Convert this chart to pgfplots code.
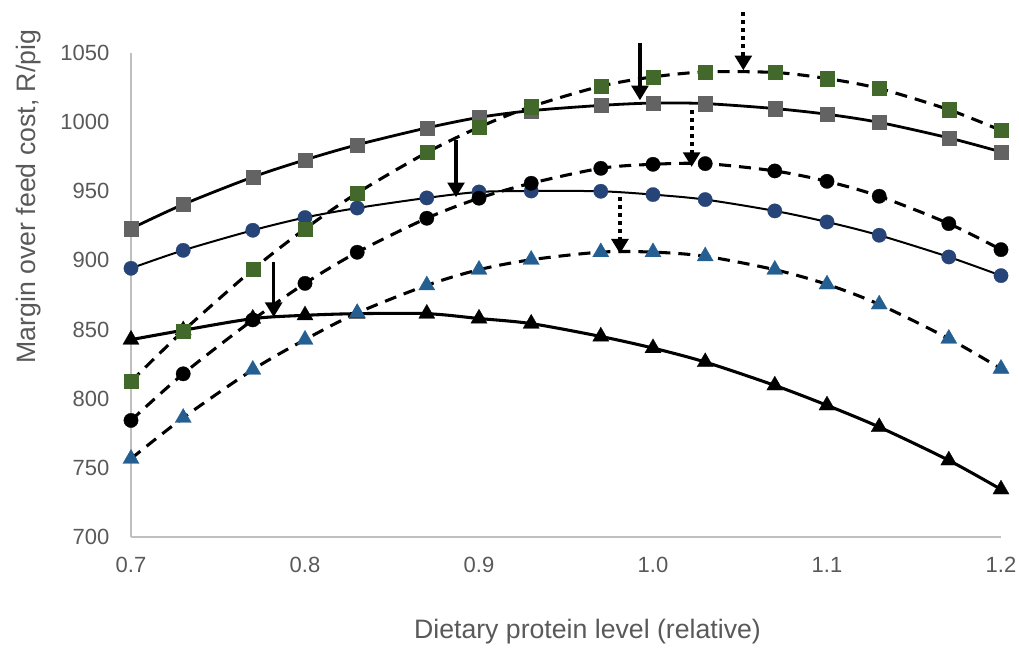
\documentclass[border=0pt]{standalone}
\usepackage{fontspec}
\setmainfont{Liberation Sans}
\usepackage{pgfplots}
\pgfplotsset{compat=1.18}
\usepackage{pgfplotstable}
\usetikzlibrary{arrows.meta,calc}

\definecolor{sqgray}{HTML}{636363}
\definecolor{sqgreen}{HTML}{43682B}
\definecolor{cblue}{HTML}{264478}
\definecolor{tblue}{HTML}{255E91}
\definecolor{axisgray}{HTML}{BFBFBF}
\definecolor{labgray}{HTML}{595959}

\pgfplotstableread{
x y
0.70 923
0.73 940.5
0.77 960.3
0.80 972.7
0.83 983.6
0.87 995.8
0.90 1003.4
0.93 1008.3
0.97 1012.1
1.00 1013.8
1.03 1013.4
1.07 1009.8
1.10 1005.7
1.13 999.8
1.17 988.6
1.20 978.5
}\tabGray

\pgfplotstableread{
x y
0.70 812.5
0.73 849
0.77 893.4
0.80 922.8
0.83 948.7
0.87 978
0.90 996.3
0.93 1011.2
0.97 1026
1.00 1032.7
1.03 1036.3
1.07 1035.9
1.10 1031.5
1.13 1024.3
1.17 1009
1.20 994
}\tabGreen

\pgfplotstableread{
x y
0.70 894.3
0.73 907.3
0.77 921.8
0.80 931
0.83 937.9
0.87 945.2
0.90 949.5
0.93 950.2
0.97 950
1.00 947.6
1.03 944
1.07 935.8
1.10 927.8
1.13 918.2
1.17 902.5
1.20 889
}\tabBlueCirc

\pgfplotstableread{
x y
0.70 784.3
0.73 818
0.77 857
0.80 883.4
0.83 905.9
0.87 930.5
0.90 945
0.93 955.8
0.97 966.6
1.00 969.5
1.03 970
1.07 964.7
1.10 957.2
1.13 946.4
1.17 926.6
1.20 907.8
}\tabBlackCirc

\pgfplotstableread{
x y
0.70 842.7
0.73 849.5
0.77 857.9
0.80 860.3
0.83 861.5
0.87 861.5
0.90 858
0.93 854.3
0.97 845
1.00 836.6
1.03 826.5
1.07 809.6
1.10 795.2
1.13 779.5
1.17 755.4
1.20 734.4
}\tabBlackTri

\pgfplotstableread{
x y
0.70 756.6
0.73 786.2
0.77 821
0.80 842.7
0.83 862
0.87 882
0.90 893.3
0.93 900.5
0.97 906
1.00 906
1.03 903
1.07 893.3
1.10 882.7
1.13 868.2
1.17 843.4
1.20 821.7
}\tabBlueTri

\begin{document}
\begin{tikzpicture}
\begin{axis}[
  name=ax,
  scale only axis,
  width=652.5pt, height=363pt,
  xmin=0.7, xmax=1.2, ymin=700, ymax=1050,
  axis x line*=bottom, axis y line*=left,
  axis line style={draw=axisgray, line width=1.1pt, -},
  major tick length=0pt,
  xtick={0.7,0.8,0.9,1.0,1.1,1.2},
  xticklabels={0.7,0.8,0.9,1.0,1.1,1.2},
  ytick={700,750,800,850,900,950,1000,1050},
  yticklabels={700,750,800,850,900,950,1000,1050},
  tick label style={font=\fontsize{16.5}{19}\selectfont, text=labgray},
  xticklabel style={anchor=base, inner sep=0pt, yshift=-27pt},
  yticklabel style={anchor=east, inner sep=0pt, xshift=-16pt},
  xlabel={Dietary protein level (relative)},
  ylabel={Margin over feed cost, R/pig},
  label style={font=\fontsize{20}{24}\selectfont, text=labgray},
  xlabel style={at={(rel axis cs:0.5247,-0.2107)}, anchor=base},
  ylabel style={at={(rel axis cs:-0.1103,0.7035)}, anchor=base},
  clip=false,
  dashstyle/.style={dash pattern=on 9pt off 6pt},
]
% lines
\addplot[smooth, black, line width=2.1pt] table {\tabGray};
\addplot[smooth, black, line width=2.3pt, dashstyle] table {\tabGreen};
\addplot[smooth, black, line width=1.5pt] table {\tabBlueCirc};
\addplot[smooth, black, line width=2.3pt, dashstyle] table {\tabBlackCirc};
\addplot[smooth, black, line width=2.3pt] table {\tabBlackTri};
\addplot[smooth, black, line width=2.3pt, dashstyle] table {\tabBlueTri};
% markers
\addplot[only marks, mark=square*, mark size=5.3pt, mark options={solid, fill=sqgray, draw=sqgray, line width=0.2pt}] table {\tabGray};
\addplot[only marks, mark=*, mark size=5.4pt, mark options={solid, fill=cblue, draw=cblue, line width=0.2pt}] table {\tabBlueCirc};
\addplot[only marks, mark=triangle*, mark size=7pt, mark options={solid, fill=black, draw=black, line width=0.2pt}] table {\tabBlackTri};
\addplot[only marks, mark=triangle*, mark size=7pt, mark options={solid, fill=tblue, draw=tblue, line width=0.2pt}] table {\tabBlueTri};
\addplot[only marks, mark=*, mark size=5.4pt, mark options={solid, fill=black, draw=black, line width=0.2pt}] table {\tabBlackCirc};
\addplot[only marks, mark=square*, mark size=5.3pt, mark options={solid, fill=sqgreen, draw=sqgreen, line width=0.2pt}] table {\tabGreen};
% arrows (annotations)
\draw[line width=2.6pt, -{Triangle[width=12.5pt,length=11pt]}] (axis cs:0.782,898.6) -- (axis cs:0.782,859);
\draw[line width=2.6pt, -{Triangle[width=12.5pt,length=11pt]}] (axis cs:0.8868,986.9) -- (axis cs:0.8868,945.7);
\draw[line width=2.6pt, -{Triangle[width=12.5pt,length=11pt]}] (axis cs:0.9925,1057) -- (axis cs:0.9925,1015.8);
\draw[line width=3pt, dash pattern=on 3pt off 3pt, -{Triangle[width=12.5pt,length=11pt]}] (axis cs:1.0519,1079.7) -- (axis cs:1.0519,1037.5);
\draw[line width=3pt, dash pattern=on 3pt off 3pt, -{Triangle[width=12.5pt,length=11pt]}] (axis cs:1.0222,1008.6) -- (axis cs:1.0222,967.6);
\draw[line width=3pt, dash pattern=on 3pt off 3pt, -{Triangle[width=12.5pt,length=11pt]}] (axis cs:0.981,945.9) -- (axis cs:0.981,904.9);
\end{axis}
\pgfresetboundingbox
\path[use as bounding box] ($(ax.south west)+(-98.25pt,-83.25pt)$) rectangle ($(ax.north east)+(13.5pt,39.75pt)$);
\end{tikzpicture}
\end{document}
